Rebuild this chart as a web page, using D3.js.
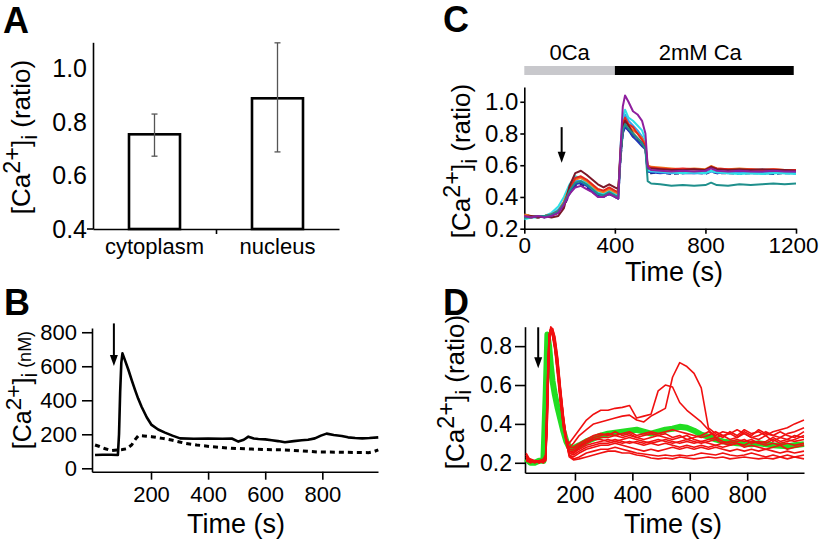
<!DOCTYPE html>
<html><head><meta charset="utf-8">
<script src="https://cdn.jsdelivr.net/npm/d3@7"></script>
<style>
body{margin:0;background:#fff}
svg{display:block}
text{font-family:"Liberation Sans",Arial,Helvetica,sans-serif;fill:#000}
</style></head><body>
<svg id="fig" width="819" height="543"></svg>
<script>
// ---------- Panel A data ----------
const aCategories = ["cytoplasm", "nucleus"];
const aMeans = [0.755, 0.89];
const aErrLow = [0.673, 0.689];
const aErrHigh = [0.831, 1.098];
const aYTicks = [0.4, 0.6, 0.8, 1.0];

// ---------- Panel B data ----------
const bSolidT = [4,30,60,84,88,92,96,100,110,121,133,144,155,167,185,202,225,249,275,302,350,400,450,483,506,525,541,560,576,600,623,645,669,700,728,750,774,795,815,840,868,890,915,940,965,996];
const bSolidV = [78,80,80,78,200,450,620,676,630,578,515,461,410,362,300,255,228,210,192,176,174,175,174,175,157,168,186,175,172,170,165,160,153,160,165,168,176,192,204,196,190,182,178,176,178,182];
const bDashT = [4,20,40,62,86,100,115,132,145,156,175,202,240,272,300,319,360,413,480,553,600,669,730,786,850,910,961,980,996];
const bDashV = [137,128,115,104,108,110,115,137,170,192,190,186,176,166,155,147,137,127,118,113,110,108,102,96,95,93,92,98,108];
const bYTicks = [0, 200, 400, 600, 800];
const bXTicks = [200, 400, 600, 800];
const bArrow = {t: 70, from: 852, to: 602};

// ---------- Panel C data ----------
const cTime = [0,30,60,90,120,150,175,200,225,250,275,300,325,350,375,400,415,425,435,445,460,480,500,520,535,545,560,600,650,700,750,800,825,850,900,950,1000,1050,1100,1150,1200];
const cNavy   = [0.29,0.28,0.28,0.27,0.28,0.30,0.34,0.42,0.47,0.48,0.46,0.43,0.41,0.40,0.42,0.40,0.39,0.64,0.80,0.85,0.82,0.78,0.76,0.73,0.71,0.55,0.55,0.555,0.545,0.55,0.555,0.545,0.56,0.55,0.55,0.545,0.55,0.55,0.545,0.55,0.55];
const cBlue   = [0.28,0.28,0.27,0.28,0.29,0.31,0.35,0.43,0.48,0.49,0.47,0.44,0.41,0.40,0.42,0.40,0.39,0.65,0.80,0.84,0.82,0.78,0.75,0.72,0.70,0.56,0.555,0.55,0.555,0.55,0.55,0.555,0.565,0.55,0.555,0.55,0.555,0.55,0.55,0.555,0.55];
const cLtBlue = [0.27,0.28,0.27,0.28,0.29,0.32,0.37,0.45,0.50,0.50,0.48,0.45,0.42,0.41,0.43,0.41,0.40,0.68,0.86,0.92,0.88,0.85,0.82,0.78,0.74,0.57,0.56,0.555,0.55,0.555,0.55,0.55,0.56,0.555,0.55,0.555,0.55,0.55,0.555,0.55,0.55];
const cCyan   = [0.26,0.27,0.27,0.28,0.30,0.34,0.40,0.48,0.53,0.52,0.49,0.46,0.43,0.42,0.44,0.42,0.41,0.72,0.90,0.95,0.90,0.88,0.85,0.82,0.76,0.57,0.565,0.56,0.555,0.55,0.555,0.55,0.565,0.555,0.55,0.545,0.55,0.545,0.55,0.55,0.545];
const cOrange = [0.29,0.28,0.27,0.28,0.29,0.31,0.37,0.46,0.51,0.52,0.50,0.47,0.44,0.43,0.45,0.43,0.42,0.68,0.84,0.88,0.85,0.82,0.80,0.77,0.73,0.60,0.59,0.585,0.58,0.575,0.58,0.575,0.595,0.58,0.575,0.58,0.575,0.57,0.575,0.57,0.565];
const cRed    = [0.28,0.27,0.28,0.28,0.29,0.31,0.36,0.45,0.52,0.53,0.51,0.48,0.45,0.44,0.46,0.44,0.43,0.70,0.86,0.90,0.86,0.84,0.80,0.76,0.72,0.59,0.585,0.58,0.575,0.58,0.575,0.57,0.59,0.58,0.575,0.57,0.575,0.57,0.575,0.57,0.57];
const cMaroon = [0.27,0.28,0.27,0.28,0.27,0.28,0.33,0.47,0.55,0.565,0.54,0.51,0.48,0.46,0.48,0.46,0.45,0.66,0.84,0.88,0.85,0.80,0.77,0.74,0.70,0.58,0.58,0.575,0.57,0.57,0.575,0.57,0.59,0.575,0.57,0.575,0.57,0.575,0.57,0.57,0.565];
const cTeal   = [0.27,0.27,0.28,0.28,0.29,0.31,0.36,0.44,0.49,0.50,0.48,0.45,0.42,0.41,0.43,0.41,0.40,0.66,0.82,0.86,0.83,0.80,0.77,0.74,0.70,0.50,0.485,0.48,0.47,0.475,0.47,0.475,0.49,0.475,0.47,0.48,0.475,0.48,0.485,0.48,0.485];
const cPurple = [0.28,0.27,0.28,0.27,0.28,0.30,0.35,0.42,0.46,0.47,0.45,0.43,0.40,0.40,0.42,0.40,0.39,0.70,0.97,1.04,1.00,0.94,0.92,0.88,0.80,0.59,0.57,0.565,0.56,0.565,0.56,0.565,0.58,0.565,0.56,0.565,0.56,0.56,0.565,0.56,0.56];
const cYTicks = [0.2, 0.4, 0.6, 0.8, 1.0];
const cXTicks = [0, 400, 800, 1200];
const cConditions = ["0Ca", "2mM Ca"];
const cCondStart = [0, 400];
const cCondEnd = [400, 1190];
const cArrow = {t: 165, from: 0.84, to: 0.615};

// ---------- Panel D data ----------
const dTime = [30,45,60,75,90,98,104,110,116,122,130,140,150,160,170,180,195,215,240,265,290,315,340,365,390,415,440,465,490,515,540,565,590,615,640,665,690,715,740,765,790,815,840,865,890,915,940,965,998];
const dRed1  = [0.25,0.21,0.21,0.21,0.21,0.22,0.50,0.84,0.89,0.87,0.80,0.68,0.52,0.40,0.32,0.30, 0.33,0.37,0.42,0.45,0.47,0.47,0.48,0.485,0.495,0.43,0.44,0.45,0.57,0.60,0.59,0.51,0.47,0.44,0.41,0.37,0.33,0.34,0.32,0.33,0.35,0.33,0.32,0.34,0.31,0.33,0.32,0.34,0.33];
const dRed2  = [0.22,0.22,0.21,0.21,0.22,0.24,0.62,0.86,0.88,0.85,0.78,0.64,0.50,0.38,0.31,0.28, 0.30,0.34,0.37,0.40,0.41,0.42,0.43,0.44,0.445,0.42,0.41,0.44,0.46,0.48,0.64,0.715,0.695,0.66,0.585,0.38,0.35,0.33,0.36,0.34,0.37,0.35,0.36,0.34,0.36,0.37,0.38,0.40,0.42];
const dRed3  = [0.24,0.20,0.21,0.20,0.21,0.21,0.42,0.79,0.89,0.89,0.84,0.73,0.57,0.43,0.33,0.27, 0.27,0.29,0.31,0.33,0.34,0.35,0.34,0.35,0.36,0.34,0.35,0.36,0.35,0.36,0.37,0.36,0.35,0.34,0.33,0.34,0.36,0.34,0.35,0.37,0.35,0.33,0.34,0.36,0.34,0.33,0.35,0.36,0.38];
const dRed4  = [0.21,0.21,0.20,0.21,0.21,0.23,0.55,0.85,0.90,0.88,0.82,0.70,0.55,0.41,0.31,0.26, 0.26,0.28,0.30,0.32,0.33,0.33,0.34,0.33,0.34,0.33,0.32,0.33,0.34,0.33,0.32,0.33,0.34,0.32,0.31,0.32,0.33,0.31,0.30,0.31,0.32,0.30,0.31,0.30,0.32,0.30,0.31,0.32,0.34];
const dRed5  = [0.23,0.21,0.21,0.21,0.20,0.22,0.47,0.82,0.88,0.88,0.83,0.71,0.56,0.43,0.32,0.25, 0.25,0.27,0.29,0.30,0.31,0.32,0.31,0.32,0.33,0.32,0.31,0.30,0.31,0.32,0.31,0.30,0.31,0.30,0.31,0.30,0.29,0.30,0.29,0.30,0.29,0.31,0.30,0.29,0.30,0.29,0.30,0.29,0.30];
const dRed6  = [0.22,0.21,0.21,0.20,0.21,0.22,0.52,0.85,0.89,0.86,0.79,0.66,0.51,0.39,0.30,0.25, 0.24,0.26,0.28,0.29,0.30,0.30,0.31,0.30,0.31,0.30,0.29,0.30,0.29,0.30,0.29,0.28,0.29,0.28,0.29,0.28,0.29,0.28,0.29,0.30,0.28,0.29,0.28,0.27,0.28,0.29,0.27,0.28,0.29];
const dRed7  = [0.21,0.21,0.21,0.21,0.21,0.23,0.58,0.86,0.88,0.86,0.80,0.67,0.52,0.39,0.30,0.24, 0.23,0.25,0.27,0.28,0.29,0.29,0.30,0.29,0.28,0.27,0.26,0.27,0.26,0.27,0.28,0.27,0.28,0.27,0.28,0.27,0.28,0.27,0.26,0.27,0.26,0.27,0.26,0.27,0.26,0.25,0.26,0.25,0.26];
const dRed8  = [0.24,0.21,0.20,0.21,0.21,0.21,0.44,0.80,0.89,0.89,0.85,0.74,0.58,0.44,0.32,0.24, 0.22,0.23,0.25,0.26,0.27,0.27,0.28,0.27,0.26,0.25,0.245,0.24,0.235,0.24,0.235,0.24,0.235,0.24,0.25,0.245,0.24,0.25,0.24,0.235,0.24,0.25,0.24,0.23,0.24,0.23,0.22,0.23,0.22];
const dRed9  = [0.21,0.20,0.21,0.21,0.20,0.22,0.48,0.83,0.89,0.88,0.83,0.72,0.57,0.43,0.31,0.23, 0.215,0.22,0.23,0.24,0.25,0.26,0.26,0.25,0.25,0.24,0.235,0.225,0.22,0.225,0.22,0.23,0.225,0.22,0.225,0.23,0.225,0.23,0.22,0.225,0.23,0.225,0.22,0.225,0.22,0.23,0.24,0.23,0.24];
const dRed10 = [0.22,0.21,0.21,0.21,0.21,0.24,0.60,0.86,0.89,0.86,0.79,0.66,0.52,0.40,0.32,0.28, 0.28,0.30,0.32,0.34,0.35,0.34,0.36,0.34,0.35,0.33,0.34,0.35,0.34,0.35,0.33,0.34,0.32,0.33,0.34,0.36,0.34,0.36,0.35,0.33,0.36,0.34,0.37,0.35,0.34,0.36,0.34,0.33,0.36];
const dRed11 = [0.23,0.21,0.21,0.20,0.21,0.22,0.50,0.83,0.88,0.87,0.81,0.69,0.54,0.41,0.31,0.26, 0.25,0.28,0.31,0.32,0.32,0.31,0.32,0.31,0.30,0.31,0.30,0.31,0.32,0.31,0.30,0.31,0.32,0.31,0.30,0.31,0.32,0.30,0.31,0.32,0.31,0.32,0.30,0.31,0.33,0.31,0.32,0.31,0.32];
const dGreen = [0.22,0.20,0.20,0.21,0.21,0.55,0.86,0.80,0.70,0.62,0.55,0.48,0.42,0.36,0.31,0.28, 0.275,0.29,0.31,0.325,0.34,0.35,0.355,0.36,0.365,0.37,0.36,0.35,0.36,0.37,0.375,0.385,0.38,0.365,0.345,0.335,0.32,0.31,0.305,0.30,0.298,0.295,0.30,0.295,0.29,0.288,0.285,0.29,0.296];
const dYTicks = [0.2, 0.4, 0.6, 0.8];
const dXTicks = [200, 400, 600, 800];
const dArrow = {t: 72, from: 0.897, to: 0.686};

// ---------- drawing ----------
const svg = d3.select("#fig");
const FONT = '"Liberation Sans",Arial,Helvetica,sans-serif';

function styleAxis(g, fs) {
  g.attr("font-family", FONT).attr("font-size", fs);
  g.selectAll("path.domain").attr("stroke", "#000").attr("stroke-width", 1.6);
  g.selectAll(".tick line").attr("stroke", "#000").attr("stroke-width", 1.6);
  g.selectAll(".tick text").attr("fill", "#000");
}
function panelLetter(x, y, s) {
  svg.append("text").attr("x", x).attr("y", y).attr("font-weight", "bold")
    .attr("font-size", 36).text(s);
}
function yLabel(x, y, size, unit, unitSize) {
  const t = svg.append("text").attr("transform", `translate(${x},${y}) rotate(-90)`)
    .attr("text-anchor", "middle").attr("font-size", size);
  t.append("tspan").text("[Ca");
  t.append("tspan").attr("dy", -size * 0.4).attr("font-size", size * 0.9).text("2+");
  t.append("tspan").attr("dy", size * 0.4).text("]");
  t.append("tspan").attr("dy", size * 0.25).attr("font-size", size * 0.85).text("i");
  t.append("tspan").attr("dy", -size * 0.25).attr("font-size", unitSize).text("\u00a0" + unit);
}
function arrow(x, y1, y2) {
  svg.append("line").attr("x1", x).attr("x2", x).attr("y1", y1).attr("y2", y2 - 9)
    .attr("stroke", "#000").attr("stroke-width", 2);
  svg.append("path").attr("d", `M${x - 4},${y2 - 11}L${x + 4},${y2 - 11}L${x},${y2}Z`).attr("fill", "#000");
}
function timeLabel(x, y) {
  svg.append("text").attr("x", x).attr("y", y).attr("text-anchor", "middle")
    .attr("font-size", 27).text("Time (s)");
}

// ===== Panel A =====
const yA = d3.scaleLinear().domain([0.4, 1.1]).range([229, 42.3]);
const xA = d3.scalePoint().domain(aCategories).range([93, 339]).padding(0.5);
const xAgap = d3.scaleLinear().domain([0, 2]).range([93, 339]);
panelLetter(3, 33, "A");
const gAy = svg.append("g").attr("transform", "translate(93,0)")
  .call(d3.axisLeft(yA).tickValues(aYTicks).tickFormat(d3.format(".1f")).tickSize(0).tickSizeOuter(0).tickPadding(6));
styleAxis(gAy, 25);
const gAx = svg.append("g").attr("transform", `translate(0,${yA(0.4)})`)
  .call(d3.axisBottom(xAgap).tickValues([1]).tickFormat("").tickSize(5).tickSizeOuter(0));
styleAxis(gAx, 22);
svg.append("line").attr("x1", 87).attr("x2", 93).attr("y1", yA(0.4)).attr("y2", yA(0.4))
  .attr("stroke", "#000").attr("stroke-width", 1.6);
const barW = 51;
aCategories.forEach((c, i) => {
  svg.append("rect").attr("x", xA(c) - barW / 2).attr("y", yA(aMeans[i]))
    .attr("width", barW).attr("height", yA(0.4) - yA(aMeans[i]))
    .attr("fill", "#fff").attr("stroke", "#000").attr("stroke-width", 2.6);
  const eg = svg.append("g").attr("stroke", "#555").attr("stroke-width", 1.3);
  eg.append("line").attr("x1", xA(c)).attr("x2", xA(c)).attr("y1", yA(aErrLow[i])).attr("y2", yA(aErrHigh[i]));
  eg.append("line").attr("x1", xA(c) - 3).attr("x2", xA(c) + 3).attr("y1", yA(aErrLow[i])).attr("y2", yA(aErrLow[i]));
  eg.append("line").attr("x1", xA(c) - 3).attr("x2", xA(c) + 3).attr("y1", yA(aErrHigh[i])).attr("y2", yA(aErrHigh[i]));
  svg.append("text").attr("x", xA(c)).attr("y", 254).attr("text-anchor", "middle")
    .attr("font-size", 22).text(c);
});
yLabel(30, 137, 26, "(ratio)", 26);

// ===== Panel B =====
const yB = d3.scaleLinear().domain([-20, 825]).range([471.7, 328]);
const xB = d3.scaleLinear().domain([-7, 995]).range([91.9, 378]);
panelLetter(4, 315, "B");
const gBy = svg.append("g").attr("transform", "translate(92,0)")
  .call(d3.axisLeft(yB).tickValues(bYTicks).tickSize(10).tickSizeOuter(0).tickPadding(5));
styleAxis(gBy, 22);
const gBx = svg.append("g").attr("transform", `translate(0,${yB(-20)})`)
  .call(d3.axisBottom(xB).tickValues(bXTicks).tickSize(8).tickSizeOuter(0).tickPadding(7));
styleAxis(gBx, 22);
const lineB = d3.line().x(d => xB(d[0])).y(d => yB(d[1]));
svg.append("path").datum(d3.zip(bDashT, bDashV)).attr("d", lineB)
  .attr("fill", "none").attr("stroke", "#000").attr("stroke-width", 3).attr("stroke-dasharray", "5,4");
svg.append("path").datum(d3.zip(bSolidT, bSolidV)).attr("d", lineB)
  .attr("fill", "none").attr("stroke", "#000").attr("stroke-width", 2.6).attr("stroke-linejoin", "round");
arrow(xB(bArrow.t), yB(bArrow.from), yB(bArrow.to));
yLabel(31, 390, 25, "(nM)", 18);
timeLabel(236, 533);

// ===== Panel C =====
const xC = d3.scaleLinear().domain([0, 1200]).range([524.3, 796]);
const yC = d3.scaleLinear().domain([0.2, 1.093]).range([228.7, 87]);
panelLetter(443, 32, "C");
const condColors = ["#c8c8cc", "#000"];
cConditions.forEach((c, i) => {
  svg.append("rect").attr("x", xC(cCondStart[i])).attr("y", 66)
    .attr("width", xC(cCondEnd[i]) - xC(cCondStart[i])).attr("height", 9).attr("fill", condColors[i]);
  svg.append("text").attr("x", (xC(cCondStart[i]) + xC(cCondEnd[i])) / 2 + (i === 0 ? 0 : -4)).attr("y", 60)
    .attr("text-anchor", "middle").attr("font-size", 22).text(c);
});
const gCy = svg.append("g").attr("transform", "translate(524.3,0)")
  .call(d3.axisLeft(yC).tickValues(cYTicks).tickFormat(d3.format(".1f")).tickSize(4).tickSizeOuter(0).tickPadding(2));
styleAxis(gCy, 24);
const gCx = svg.append("g").attr("transform", `translate(0,${yC(0.2)})`)
  .call(d3.axisBottom(xC).tickValues(cXTicks).tickFormat(d3.format("d")).tickSize(5).tickSizeOuter(0).tickPadding(3));
styleAxis(gCx, 22.5);
gCx.selectAll(".tick text").filter(d => d === 1200).attr("dx", -3);
const lineC = d3.line().x((d, i) => xC(cTime[i])).y(d => yC(d));
const cSeries = [
  [cNavy, "#1c237a", "5,3"], [cBlue, "#2238b8", null], [cLtBlue, "#3aa0ee", null],
  [cCyan, "#2ee0e6", null], [cOrange, "#f07a1e", null], [cRed, "#e8261c", null],
  [cMaroon, "#7b1728", null], [cTeal, "#1f8f8c", null], [cPurple, "#8e1f9e", null]
];
cSeries.forEach(([vals, col, dash]) => {
  const p = svg.append("path").datum(vals).attr("d", lineC).attr("fill", "none")
    .attr("stroke", col).attr("stroke-width", 2).attr("stroke-linejoin", "round");
  if (dash) p.attr("stroke-dasharray", dash);
});
arrow(xC(cArrow.t), yC(cArrow.from), yC(cArrow.to));
yLabel(470, 161, 26, "(ratio)", 26);
timeLabel(674, 281);

// ===== Panel D =====
const xD = d3.scaleLinear().domain([26, 998]).range([525, 804]);
const yD = d3.scaleLinear().domain([0.149, 0.9]).range([472.7, 326.7]);
panelLetter(443, 315, "D");
const gDy = svg.append("g").attr("transform", "translate(525,0)")
  .call(d3.axisLeft(yD).tickValues(dYTicks).tickFormat(d3.format(".1f")).tickSize(10).tickSizeOuter(0).tickPadding(3));
styleAxis(gDy, 23);
const gDx = svg.append("g").attr("transform", `translate(0,${yD(0.149)})`)
  .call(d3.axisBottom(xD).tickValues(dXTicks).tickSize(8).tickSizeOuter(0).tickPadding(6));
styleAxis(gDx, 23);
const lineD = d3.line().x((d, i) => xD(dTime[i])).y(d => yD(d));
svg.append("path").datum(dGreen).attr("d", lineD).attr("fill", "none")
  .attr("stroke", "#22dd22").attr("stroke-width", 6).attr("stroke-linejoin", "round");
[dRed1, dRed2, dRed3, dRed4, dRed5, dRed6, dRed7, dRed8, dRed9, dRed10, dRed11].forEach(vals => {
  svg.append("path").datum(vals).attr("d", lineD).attr("fill", "none")
    .attr("stroke", "#f01010").attr("stroke-width", 1.6).attr("stroke-linejoin", "round");
});
arrow(xD(dArrow.t), yD(dArrow.from), yD(dArrow.to));
yLabel(464, 392, 26, "(ratio)", 26);
timeLabel(673, 533);
</script>
</body></html>
